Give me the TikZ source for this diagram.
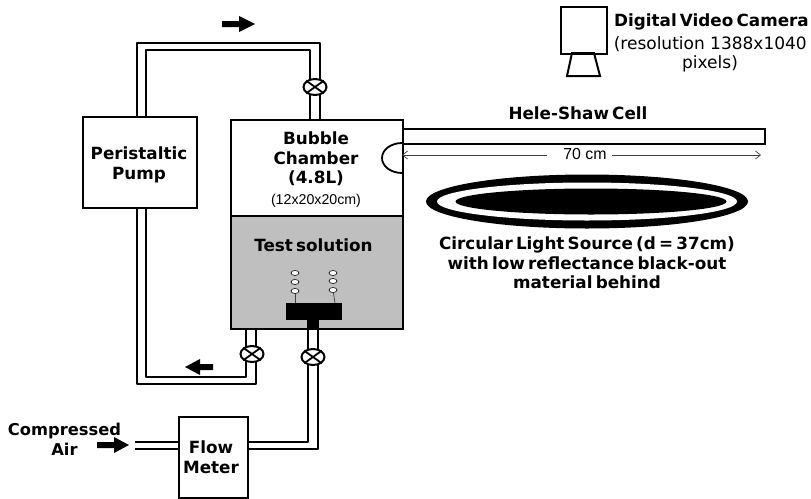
\documentclass[tikz,border=0pt]{standalone}
\usepackage{fontspec}
\setmainfont{DejaVu Sans}
\newfontfamily\arialf{Liberation Sans}
\newfontfamily\lblfont[WordSpace=0.55]{DejaVu Sans Bold}
\usetikzlibrary{shapes.geometric,arrows.meta}
\newcommand{\crossvalve}[1]{\draw[valvex] (#1.north west)--(#1.south east) (#1.north east)--(#1.south west);}
\tikzset{
  box/.style={draw=black,line width=2pt,fill=white,inner sep=0pt,align=center},
  pipe/.style={draw=black,line width=1.8pt,line join=round},
  valve/.style={ellipse,draw=black,line width=2pt,fill=white,minimum width=23pt,minimum height=16pt,inner sep=0pt},
  valvex/.style={draw=black,line width=1.8pt},
  flow/.style={draw=none,fill=black},
  bubble/.style={ellipse,draw=black,line width=.6pt,fill=white,minimum width=8pt,minimum height=5pt,inner sep=0pt},
  thinline/.style={draw=black!75,line width=.7pt},
  lbl/.style={inner sep=0pt,align=center,font=\fontsize{16.8}{19.7}\lblfont\selectfont},
  lblplain/.style={inner sep=0pt,align=center,font=\fontsize{17}{20}\selectfont},
}
\begin{document}
\begin{tikzpicture}[x=1pt,y=-1pt]
\useasboundingbox[fill=white] (0,0) rectangle (811,498);
% pipe corners
\coordinate (tlo) at (137,43); \coordinate (tli) at (146,50);
\coordinate (tro) at (320,43); \coordinate (tri) at (310,50);
\coordinate (blo) at (137,384); \coordinate (bli) at (146,377);
\coordinate (bro) at (256,384); \coordinate (bri) at (246,377);
\coordinate (pto) at (137,117); \coordinate (pti) at (146,117);
\coordinate (pbo) at (137,208); \coordinate (pbi) at (146,208);
\coordinate (cto) at (320,119); \coordinate (cti) at (310,119);
\coordinate (cbo) at (256,328); \coordinate (cbi) at (246,328);
\coordinate (ai1) at (308,328); \coordinate (ai2) at (318,328);
\coordinate (ac1) at (308,442); \coordinate (ac2) at (318,449);
\coordinate (fr1) at (247,442); \coordinate (fr2) at (247,449);
\coordinate (fl1) at (178,442); \coordinate (fl2) at (178,449);
\coordinate (in1) at (135,442); \coordinate (in2) at (135,449);
% pipes
\draw[pipe] (pto)--(tlo)--(tro)--(cto);
\draw[pipe] (pti)--(tli)--(tri)--(cti);
\draw[pipe] (pbo)--(blo)--(bro)--(cbo);
\draw[pipe] (pbi)--(bli)--(bri)--(cbi);
\draw[pipe] (ai1)--(ac1)--(fr1);
\draw[pipe] (ai2)--(ac2)--(fr2);
\draw[pipe] (in1)--(fl1);
\draw[pipe] (in2)--(fl2);
% boxes
\node[box,minimum width=114pt,minimum height=91pt] (pump) at (139.5,162.5) {};
\node[lbl] (pumpt) at (139,165) {Peristaltic\\Pump};
\node[box,minimum width=172pt,minimum height=96pt,anchor=north west] (chamber) at (230,119) {};
\node[box,fill=black!25,minimum width=172pt,minimum height=113pt,anchor=north west] (solution) at (230,215) {};
\node[lbl] (chtext) at (316,159) {Bubble\\Chamber\\(4.8L)};
\node[inner sep=0pt,font=\fontsize{14.2}{17}\arialf\selectfont] (chsize) at (316,201) {(12x20x20cm)};
\node[lbl] (tstext) at (313.5,245) {Test solution};
\node[box,minimum width=69pt,minimum height=81pt,anchor=north west] (flowm) at (178,416) {};
\node[lbl] (fmtext) at (211,457) {Flow\\Meter};
% valves
\node[valve] (v1) at (315,87) {}; \crossvalve{v1}
\node[valve] (v2) at (252,354) {}; \crossvalve{v2}
\node[valve] (v3) at (313,357) {}; \crossvalve{v3}
% flow arrows
\fill[flow] (222,21)--(239,21)--(239,16)--(255,24)--(239,32)--(239,27)--(222,27)--cycle;
\fill[flow] (213,364)--(200,364)--(200,359)--(185,367)--(200,375)--(200,370)--(213,370)--cycle;
\fill[flow] (97,442)--(114,442)--(114,437)--(129,445)--(114,453)--(114,448)--(97,448)--cycle;
% sparger
\node[fill=black,minimum width=56pt,minimum height=17pt,inner sep=0pt,anchor=north west] (sparger) at (286,303) {};
\node[fill=black,minimum width=12pt,minimum height=9pt,inner sep=0pt,anchor=north] (stem) at (313,320) {};
\node[bubble] (b1) at (295,273) {};
\node[bubble] (b2) at (295,282) {};
\node[bubble] (b3) at (295,291) {};
\node[bubble] (b4) at (333,273) {};
\node[bubble] (b5) at (333,281) {};
\node[bubble] (b6) at (333,290) {};
\coordinate (s1) at (295,303); \coordinate (s2) at (335,303);
\draw[thinline] (b3)--(s1);
\draw[thinline] (b6)--(s2);
% cell
\node[draw=black,line width=2pt,fill=white,minimum width=362pt,minimum height=15pt,inner sep=0pt,anchor=north west] (cell) at (402,128) {};
\coordinate (arcT) at (402,143);
\draw[line width=1.8pt] (arcT) arc[start angle=270,end angle=90,x radius=20,y radius=15];
\coordinate (dimL) at (402,155); \coordinate (dimR) at (761,155);
\coordinate (gapL) at (547,155); \coordinate (gapR) at (612,155);
\node[inner sep=0pt,font=\fontsize{15.9}{18}\arialf\selectfont] (dim) at (585,154) {70 cm};
\draw[thinline,-{Straight Barb[length=5pt,width=8pt]}] (gapL)--(dimL);
\draw[thinline,-{Straight Barb[length=5pt,width=8pt]}] (gapR)--(dimR);
% light source
\node[ellipse,fill=black,minimum width=322pt,minimum height=54pt,inner sep=0pt] (l1) at (587,201.5) {};
\node[ellipse,fill=white,minimum width=300pt,minimum height=38pt,inner sep=0pt] (l2) at (587,201.5) {};
\node[ellipse,fill=black,minimum width=271pt,minimum height=26pt,inner sep=0pt] (l3) at (591,201.5) {};
% camera
\node[draw=black,line width=2pt,minimum width=46pt,minimum height=47pt,inner sep=0pt,anchor=north west] (cam) at (560,6) {};
\coordinate (lensA) at (572,53); \coordinate (lensB) at (594,53);
\coordinate (lensC) at (600,76); \coordinate (lensD) at (567,76);
\draw[line width=2pt,line join=miter] (lensA)--(lensB)--(lensC)--(lensD)--cycle;
% labels
\node[lbl,anchor=east] (camt) at (809,22) {Digital Video Camera};
\node[lblplain,anchor=east] (camr) at (807,44) {(resolution 1388x1040};
\node[lblplain] (camp) at (710,64) {pixels)};
\node[lbl] (hs) at (578,113) {Hele-Shaw Cell};
\node[lbl] (ls) at (587,263) {Circular Light Source (d = 37cm)\\with low reflectance black-out\\material behind};
\node[lbl,font=\fontsize{16.3}{19.7}\lblfont\selectfont] (air) at (64.5,439) {Compressed\\Air};
\end{tikzpicture}
\end{document}
